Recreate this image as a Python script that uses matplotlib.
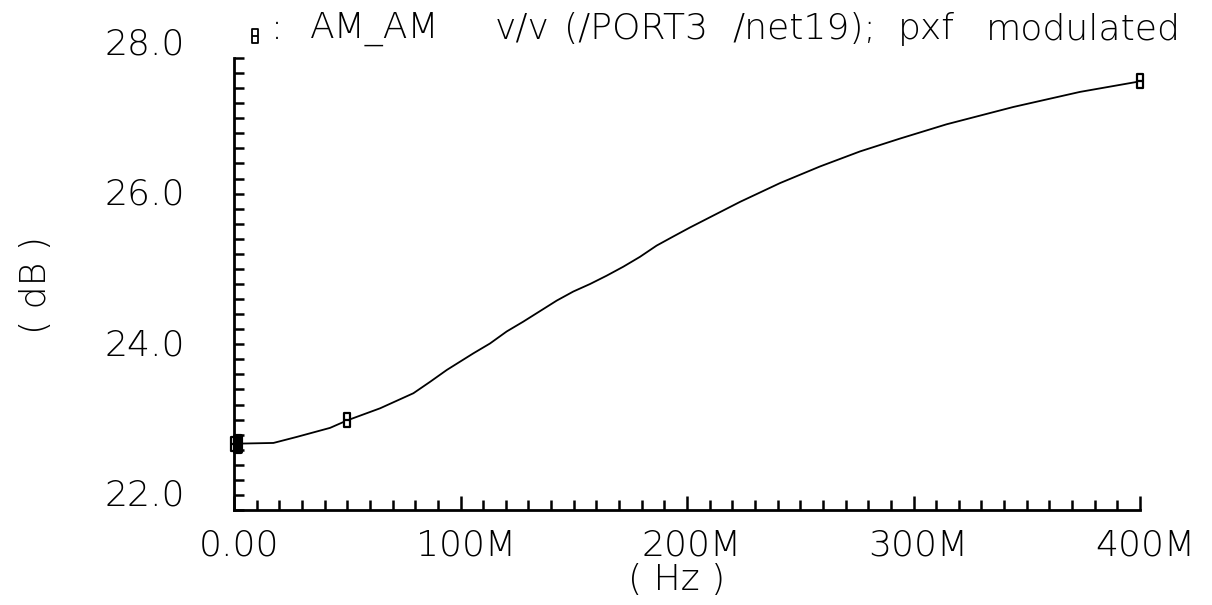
import matplotlib
matplotlib.use("Agg")
import matplotlib.pyplot as plt
from matplotlib.path import Path
from matplotlib.ticker import MultipleLocator, NullFormatter
import matplotlib.transforms as mtransforms

# Sweep frequency (Hz) and AM-to-AM gain (dB)
freq_hz = [0.0, 17.4e6, 27.7e6, 42.4e6, 50e6, 64.5e6, 79.2e6, 86.5e6, 94.0e6,
           105.7e6, 113.0e6, 120.4e6, 127.7e6, 135.1e6, 142.5e6, 149.8e6,
           157.2e6, 164.5e6, 171.9e6, 179.2e6, 186.6e6, 193.9e6, 201.3e6,
           223.4e6, 241.1e6, 258.7e6, 276.4e6, 294.0e6, 314.6e6, 344.1e6,
           373.5e6, 400e6]
gain_db = [22.88, 22.89, 22.97, 23.09, 23.19, 23.35, 23.55, 23.70, 23.86,
           24.08, 24.21, 24.37, 24.50, 24.64, 24.78, 24.90,
           25.00, 25.11, 25.23, 25.36, 25.51, 25.63, 25.75,
           26.09, 26.34, 26.56, 26.76, 26.93, 27.12, 27.35,
           27.55, 27.69]

# Points that carry the trace marker
marker_freq = [0.0, 50e6, 400e6]
marker_gain = [22.88, 23.19, 27.69]

y_ticks = [22.0, 24.0, 26.0, 28.0]
y_tick_labels = ["22.0", "24.0", "26.0", "28.0"]
x_ticks = [0.0, 100e6, 200e6, 300e6, 400e6]
x_tick_labels = ["0.00", "100M", "200M", "300M", "400M"]

# trace legend line, word by word with its pixel column
title_words = [":", "AM_AM", "v/v", "(/PORT3", "/net19);", "pxf", "modulated"]
title_word_x = [271, 310, 495, 564, 732, 898, 986]
x_label = "( Hz )"
y_label = "( dB )"

FONT = ["DejaVu Sans"]
FS = 26
WEIGHT = 200

W, H = 1212, 605
fig = plt.figure(figsize=(W / 100, H / 100), dpi=100)
fig.patch.set_facecolor("white")

# axes box in pixel terms
x0, x1 = 234, 1140
y_top, y_bot = 58, 510
ax = fig.add_axes([x0 / W, (H - y_bot) / H, (x1 - x0) / W, (y_bot - y_top) / H])
ax.set_xlim(0, 400e6)
ax.set_ylim(22, 28)

for side in ("top", "right"):
    ax.spines[side].set_visible(False)
for side in ("left", "bottom"):
    ax.spines[side].set_linewidth(2.0)
    ax.spines[side].set_color("black")

# rectangle-with-bar marker used by the trace
bar_marker = Path(
    [(-0.22, -0.5), (0.22, -0.5), (0.22, 0.5), (-0.22, 0.5), (-0.22, -0.5),
     (-0.22, 0.0), (0.22, 0.0)],
    [Path.MOVETO, Path.LINETO, Path.LINETO, Path.LINETO, Path.CLOSEPOLY,
     Path.MOVETO, Path.LINETO])

ax.plot(freq_hz, gain_db, color="black", lw=1.3, clip_on=False, zorder=3)
ax.plot(marker_freq, marker_gain, linestyle="none", marker=bar_marker,
        markersize=10.5, markerfacecolor="white", markeredgecolor="black",
        markeredgewidth=1.6, clip_on=False, zorder=4)
# the first point is drawn heavier, offset just right of the axis
first_off = mtransforms.ScaledTranslation(0.04, 0, fig.dpi_scale_trans)
ax.plot(marker_freq[:1], marker_gain[:1], linestyle="none", marker=bar_marker,
        markersize=11, markerfacecolor="black", markeredgecolor="black",
        markeredgewidth=3.0, clip_on=False, zorder=5,
        transform=ax.transData + first_off)

# ticks: all drawn inward
ax.xaxis.set_major_locator(MultipleLocator(100e6))
ax.xaxis.set_minor_locator(MultipleLocator(10e6))
ax.yaxis.set_major_locator(MultipleLocator(2.0))
ax.yaxis.set_minor_locator(MultipleLocator(0.2))
ax.tick_params(axis="both", which="both", direction="in", width=1.8,
               color="black")
ax.tick_params(axis="x", which="major", length=10)
ax.tick_params(axis="x", which="minor", length=7)
ax.tick_params(axis="y", which="both", length=7)
ax.xaxis.set_major_formatter(NullFormatter())
ax.yaxis.set_major_formatter(NullFormatter())

txt = dict(fontsize=FS, family=FONT, fontweight=WEIGHT)

# tick labels
ylab_off = mtransforms.ScaledTranslation(-0.49, 0.14, fig.dpi_scale_trans)
for v, s in zip(y_ticks, y_tick_labels):
    ax.text(0, v, s, transform=ax.get_yaxis_transform() + ylab_off,
            ha="right", va="center", **txt)
xlab_off = mtransforms.ScaledTranslation(0.05, -0.35, fig.dpi_scale_trans)
for v, s in zip(x_ticks, x_tick_labels):
    ax.text(v, 0, s, transform=ax.get_xaxis_transform() + xlab_off,
            ha="center", va="center", **txt)

fig.text(677 / W, 1 - 580 / H, x_label, ha="center", va="center", **txt)
fig.text(36 / W, 1 - 285 / H, y_label, ha="center", va="center",
         rotation=90, **txt)

# legend line: marker symbol followed by the trace description
fig.lines.append(plt.Line2D([255 / W], [1 - 36 / H], marker=bar_marker,
                            markersize=10, markerfacecolor="white",
                            markeredgecolor="black", markeredgewidth=1.3,
                            linestyle="none", transform=fig.transFigure))
for word, px in zip(title_words, title_word_x):
    fig.text(px / W, 1 - 29 / H, word, ha="left", va="center", **txt)

fig.savefig("out.png", dpi=100, facecolor="white")
